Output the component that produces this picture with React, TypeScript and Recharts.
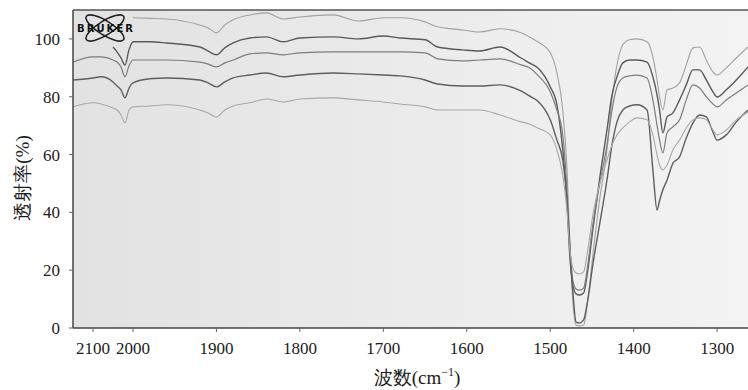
import { LineChart, Line, XAxis, YAxis, CartesianGrid, ReferenceLine } from 'recharts'

// wavenumber grid (cm-1), denser through the 1470 band
const WAVENUMBERS = [
  2150, 2100, 2080, 2050, 2040, 2030, 2020, 2010, 2000, 1980,
  1960, 1920, 1910, 1900, 1890, 1880, 1860, 1840, 1820, 1800,
  1760, 1730, 1700, 1680, 1650, 1635, 1605, 1585, 1560, 1535,
  1525, 1515, 1500, 1492, 1485, 1480, 1477, 1473, 1469, 1465,
  1460, 1455, 1449, 1441, 1432, 1426, 1420, 1413, 1405, 1396,
  1384, 1377, 1372, 1369, 1365, 1360, 1353, 1345, 1337, 1329,
  1321, 1313, 1305, 1300, 1289, 1277, 1263,
]

// transmittance (%) per trace, top to bottom
const CURVE_A = [
  null, null, null, null, null, null, null, null, 107.3, 107.1,
  106.9, 104.8, 103.8, 102.1, 104.8, 106.6, 108.3, 109, 106.9, 107.6,
  108.3, 106.2, 107.3, 107.3, 105.9, 104.2, 103.1, 102.4, 103.5, 102.1,
  100.7, 99, 95.2, 88.2, 75.4, 55.7, 33.9, 9.7, 1, 0.7,
  1, 9.7, 25, 44, 61.6, 79, 91, 98, 99.7, 100,
  99, 93.8, 85.8, 80, 75.4, 82.4, 83, 84.8, 91, 96.9,
  97.2, 92.7, 88.6, 87.5, 90, 93.4, 97.2,
]
const CURVE_B = [
  null, null, null, 97.2, 95.5, 93.4, 91, 96.2, 99, 99,
  98.6, 97.2, 95.8, 94.5, 96.9, 98.6, 100.3, 100.7, 99, 100.3,
  100.7, 100, 101, 100.3, 99.7, 97.2, 96.2, 95.8, 97.2, 93.4,
  91.7, 90, 83.4, 77.2, 61.6, 44.3, 27, 14.9, 11.8, 11.4,
  12.1, 20, 33.9, 51.2, 68.5, 80.6, 86.9, 91.7, 92.7, 92.7,
  92, 86.9, 80.6, 75.4, 67.5, 73, 74.4, 78.9, 84.1, 89.3,
  89.3, 85.8, 81.7, 79.9, 82.4, 85.8, 90.3,
]
const CURVE_C = [
  92, 93.8, 93.8, 92.7, 92, 90.3, 86.9, 90.7, 92.7, 92.7,
  92.7, 92, 91.3, 90.3, 91.7, 92.7, 94.8, 95.2, 94.5, 95.2,
  95.5, 95.5, 95.5, 95.5, 95.2, 93.1, 92.4, 92.7, 93.1, 91,
  90, 87.5, 81.7, 75.4, 66.8, 47.8, 30.4, 16.6, 13.5, 13.1,
  13.8, 21.8, 35.6, 49.5, 63.3, 75.4, 83.4, 86.5, 87.2, 87.5,
  86.5, 78.9, 70.2, 65, 60.6, 67.5, 69.6, 72, 78.9, 84.1,
  83, 80, 77.5, 76.5, 78.9, 81.3, 84.1,
]
const CURVE_D = [
  85.8, 86.5, 86.9, 85.1, 83.7, 82.4, 79.6, 83, 84.8, 86.2,
  86.5, 85.8, 84.8, 83.4, 85.1, 86.5, 87.5, 88.2, 86.9, 87.5,
  88.2, 87.9, 87.5, 87.2, 85.8, 84.4, 83.7, 83.7, 84.1, 82,
  80.3, 78.5, 72, 65, 58.1, 44.3, 30.4, 13, 2, 1.7,
  2.8, 9.7, 21.8, 35.6, 51.2, 63.3, 71.3, 75.4, 76.8, 77.2,
  75.4, 54.7, 40.8, 44, 47.8, 51.2, 57, 59.2, 65.7, 70.9,
  73.7, 73, 67.8, 65, 66.8, 71.3, 75.4,
]
const CURVE_E = [
  76.5, 77.9, 77.5, 76.1, 75.4, 73.7, 70.9, 75.4, 76.5, 76.8,
  77.2, 75.4, 74.4, 73, 75.4, 76.8, 77.9, 79.2, 78.2, 79.2,
  79.6, 78.9, 78.2, 77.5, 76.5, 75.4, 75.4, 75.4, 73.7, 71.3,
  70.6, 69.2, 66.8, 61.6, 52.9, 40.8, 28.7, 20.8, 19, 18.7,
  19.4, 27, 39, 49.5, 58.1, 63.3, 66.8, 69.2, 71.3, 72.7,
  72, 66.8, 59.9, 56.4, 54.7, 56.4, 61.6, 65, 69.2, 72,
  72.7, 72, 68.5, 66.8, 68.5, 72, 74.7,
]

const X_TICKS = [2100, 2000, 1900, 1800, 1700, 1600, 1500, 1400, 1300]
const Y_TICKS = [0, 20, 40, 60, 80, 100]
const X_RANGE = [1263, 2150]

// the printed axis is squeezed above 2000 cm-1
const SQUEEZE = 0.4794
function toAxis(wn: number) {
  return wn > 2000 ? 2000 + (wn - 2000) * SQUEEZE : wn
}
function fromAxis(u: number) {
  return u > 2000 ? 2000 + (u - 2000) / SQUEEZE : u
}

const SERIF = "'Liberation Serif'"
const INK = '#1c1c1c'

const rows = WAVENUMBERS.map((wn, i) => ({
  u: toAxis(wn),
  a: CURVE_A[i],
  b: CURVE_B[i],
  c: CURVE_C[i],
  d: CURVE_D[i],
  e: CURVE_E[i],
}))

const SERIES = [
  { key: 'a', stroke: '#a2a2a2', w: 1.1 },
  { key: 'b', stroke: '#5a5a5a', w: 1.4 },
  { key: 'c', stroke: '#7c7c7c', w: 1.2 },
  { key: 'd', stroke: '#5e5e5e', w: 1.4 },
  { key: 'e', stroke: '#a8a8a8', w: 1.1 },
]

function XTick(props: any) {
  const { x, y, payload } = props
  return (
    <text x={x} y={y} dy="0.71em" textAnchor="middle" fontSize={17} fill={INK} style={{ fontFamily: SERIF }}>
      {Math.round(fromAxis(payload.value))}
    </text>
  )
}

function YTick(props: any) {
  const { x, y, payload } = props
  return (
    <text x={x} y={y} dy="0.36em" textAnchor="end" fontSize={17} fill={INK} style={{ fontFamily: SERIF }}>
      {payload.value}
    </text>
  )
}

function XTitle() {
  return (
    <text x={417} y={384} textAnchor="middle" fontSize={19} fill={INK} style={{ fontFamily: SERIF }}>
      波数(cm<tspan dy={-8} fontSize={12}>−1</tspan>
      <tspan dy={8}>)</tspan>
    </text>
  )
}

function YTitle() {
  return (
    <text x={22} y={178} transform="rotate(-90 22 178)" textAnchor="middle" dominantBaseline="central" fontSize={19} fill={INK} style={{ fontFamily: SERIF }}>
      透射率(%)
    </text>
  )
}

function Logo() {
  return (
    <svg width={748} height={390} style={{ position: 'absolute', left: 0, top: 0, pointerEvents: 'none' }}>
      <ellipse cx={105} cy={28} rx={22} ry={7} transform="rotate(32 105 28)" fill="none" stroke="#222" strokeWidth={1.6} />
      <ellipse cx={105} cy={28} rx={22} ry={7} transform="rotate(-32 105 28)" fill="none" stroke="#222" strokeWidth={1.6} />
      <text x={105} y={32} textAnchor="middle" fontFamily="DejaVu Sans" fontWeight="bold" fontSize={10} textLength={56} fill="#111">
        BRUKER
      </text>
    </svg>
  )
}

export default function App() {
  return (
    <div style={{ position: 'absolute', left: 0, top: 0, width: 748, height: 390, background: '#fff', overflow: 'hidden' }}>
      <LineChart width={748} height={390} data={rows} margin={{ top: 10, right: 0, bottom: 0, left: 0 }}>
        <defs>
          <linearGradient id="scan" x1="0" y1="0" x2="1" y2="0">
            <stop offset="0%" stopColor="#e2e2e2" />
            <stop offset="55%" stopColor="#ececec" />
            <stop offset="100%" stopColor="#f3f3f3" />
          </linearGradient>
        </defs>
        <CartesianGrid horizontal={false} vertical={false} fill="url(#scan)" />
        <XAxis
          dataKey="u"
          type="number"
          reversed
          domain={[toAxis(X_RANGE[0]), toAxis(X_RANGE[1])]}
          ticks={X_TICKS.map(toAxis)}
          interval={0}
          allowDataOverflow
          height={62}
          tickSize={4}
          tickMargin={10}
          axisLine={{ stroke: '#444', strokeWidth: 1.5 }}
          tickLine={{ stroke: '#666' }}
          tick={XTick}
          label={<XTitle />}
        />
        <YAxis
          type="number"
          domain={[0, 110]}
          ticks={Y_TICKS}
          interval={0}
          allowDataOverflow
          width={73}
          tickSize={4}
          tickMargin={9}
          axisLine={{ stroke: '#444', strokeWidth: 1.5 }}
          tickLine={{ stroke: '#666' }}
          tick={YTick}
          label={<YTitle />}
        />
        <ReferenceLine y={110} stroke="#555" strokeWidth={1.5} />
        {SERIES.map((s) => (
          <Line
            key={s.key}
            dataKey={s.key}
            type="monotone"
            stroke={s.stroke}
            strokeWidth={s.w}
            dot={false}
            activeDot={false}
            connectNulls={false}
            isAnimationActive={false}
          />
        ))}
      </LineChart>
      <Logo />
    </div>
  )
}
